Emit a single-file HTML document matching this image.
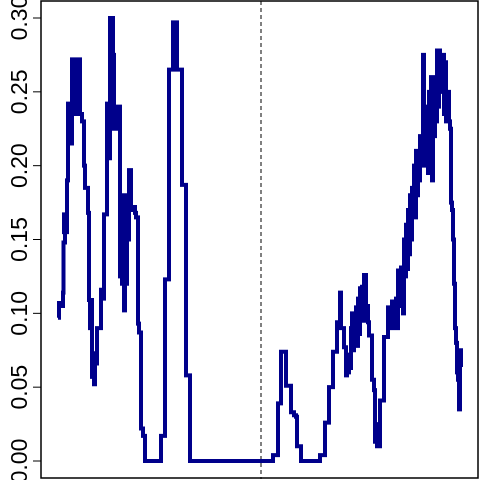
<!DOCTYPE html>
<html><head><meta charset="utf-8"><style>
html,body{margin:0;padding:0;background:#fff;}
svg{display:block;font-family:"Liberation Sans",sans-serif;}
</style></head><body>
<svg id="chart" width="480" height="480"></svg>
<script>
const times = [0,1,4,5,5.5,7,6,8,9,10,10,13,14,16,17,18,20,22,24,26,27,30,31,32,33,34,35,36,37,38,39,40,43,44,46,47,49,50,52,53,55,56,58,59,61,62,63,64,65,66,67,68,69,70,71,73,75,77,78,80,81,83,85,87,89,103,104,107,108,111,112,115,116,119,121,124,125,128,129,132,133,214,215,219,220,223,223,227,228,232,233,236,238,239,242,243,262,262,266,267,270,271,274,275,278,279,281,282,283,285,286,288,289,290,291,292,293,294,295,296,297,298,299,300,301,302,304,305,306,308,309,310,311,313,314,316,317,318,319,320,321,322,325,326,329,330,332,333,334,335,337,338,339,340,342,343,344,345,346,347,348,349,350,351,352,353,354,355,356,357,358,359,360,361,362,363,364,365,366,367,368,369,370,371,372,373,374,375,376,377,378,379,380,381,382,383,384,385,386,387,388,389,391,392,393,394,395,396,397,398,399,400,401,402,403,405];
const values = [0.097,0.107,0.105,0.114,0.148,0.155,0.167,0.155,0.19,0.208,0.242,0.215,0.272,0.235,0.272,0.235,0.272,0.235,0.23,0.2,0.185,0.168,0.109,0.09,0.109,0.057,0.073,0.052,0.073,0.066,0.09,0.09,0.116,0.11,0.167,0.167,0.242,0.205,0.3,0.3,0.275,0.225,0.24,0.225,0.24,0.125,0.18,0.12,0.18,0.102,0.18,0.12,0.18,0.15,0.197,0.17,0.172,0.168,0.165,0.093,0.087,0.022,0.017,0,0,0.017,0.017,0.123,0.123,0.265,0.265,0.297,0.297,0.265,0.265,0.187,0.187,0.058,0.058,0,0,0,0.004,0.004,0.039,0.04,0.074,0.074,0.051,0.051,0.033,0.031,0.03,0.01,0.01,0,0,0.004,0.004,0.026,0.026,0.05,0.05,0.074,0.074,0.094,0.094,0.114,0.09,0.09,0.077,0.058,0.07,0.06,0.072,0.063,0.09,0.1,0.075,0.1,0.083,0.104,0.078,0.11,0.086,0.117,0.118,0.095,0.126,0.1,0.105,0.094,0.085,0.085,0.055,0.048,0.013,0.022,0.01,0.025,0.01,0.041,0.041,0.084,0.084,0.104,0.104,0.09,0.108,0.09,0.092,0.11,0.09,0.129,0.105,0.131,0.105,0.1,0.15,0.125,0.16,0.13,0.17,0.14,0.18,0.15,0.185,0.175,0.2,0.165,0.21,0.18,0.2,0.19,0.22,0.2,0.2,0.275,0.22,0.24,0.2,0.23,0.195,0.25,0.205,0.26,0.19,0.25,0.22,0.26,0.23,0.278,0.24,0.278,0.25,0.273,0.26,0.275,0.235,0.27,0.23,0.25,0.23,0.225,0.175,0.17,0.15,0.12,0.09,0.08,0.06,0.055,0.035,0.065,0.075,0.075];
const yTicks = [0,0.05,0.10,0.15,0.20,0.25,0.30];
const yTickLabels = ["0.00","0.05","0.10","0.15","0.20","0.25","0.30"];
const splitTime = 203;

const NS="http://www.w3.org/2000/svg";
const svg=document.getElementById('chart');
const xs=t=>58+t*(405/405);
const ys=v=>461-v*(443/0.30);
function mk(tag,attrs,parent){const e=document.createElementNS(NS,tag);for(const k in attrs)e.setAttribute(k,attrs[k]);(parent||svg).appendChild(e);return e;}

const box=mk('rect',{x:41,y:1,width:437,height:477,fill:'none',stroke:'#000','stroke-width':1.5});



const axis=mk('g',{});


yTicks.forEach((v,i)=>{
  const y=ys(v);
  const tk=mk('line',{x1:33,x2:41,y1:y,y2:y,stroke:'#000','stroke-width':1},axis);
  
  
  const tx=mk('text',{x:27,y:y,'font-size':23,'text-anchor':'middle',transform:`rotate(-90 27 ${y})`},axis);
  tx.textContent=yTickLabels[i];
  
  
});

const dl=mk('line',{x1:xs(splitTime),x2:xs(splitTime),y1:1,y2:479,stroke:'#000','stroke-width':1,'stroke-dasharray':'4,3'});



let d=`M${xs(times[0])},${ys(values[0])}`;
for(let i=1;i<times.length;i++){d+=` H${xs(times[i])} V${ys(values[i])}`;}
const p=mk('path',{d:d,fill:'none',stroke:'#00008B','stroke-width':4,'stroke-linejoin':'miter'});


</script>
</body></html>
